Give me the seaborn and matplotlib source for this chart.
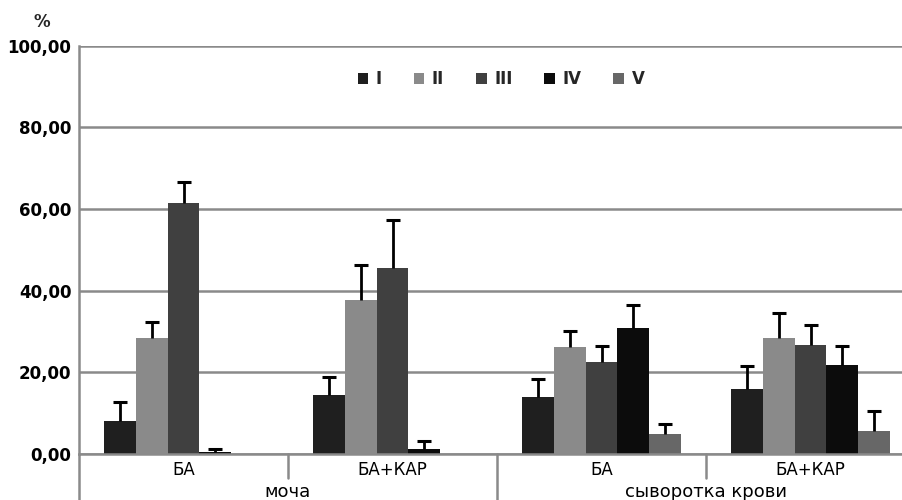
import matplotlib
matplotlib.use('Agg')
import matplotlib.pyplot as plt
import seaborn as sns
import pandas as pd
from matplotlib.transforms import blended_transform_factory

# ---- data ----
groups = ['моча', 'моча', 'сыворотка крови', 'сыворотка крови']
subgroups = ['БА', 'БА+КАР', 'БА', 'БА+КАР']
series = ['I', 'II', 'III', 'IV', 'V']

vals_I = [8.2, 14.4, 14.0, 16.0]
err_I = [4.5, 4.5, 4.4, 5.6]
vals_II = [28.3, 37.7, 26.3, 28.3]
err_II = [4.1, 8.6, 3.9, 6.1]
vals_III = [61.5, 45.5, 22.5, 26.7]
err_III = [5.2, 11.8, 4.0, 4.8]
vals_IV = [0.6, 1.2, 30.8, 21.7]
err_IV = [0.6, 2.1, 5.7, 4.8]
vals_V = [0.0, 0.0, 5.0, 5.7]
err_V = [0.0, 0.0, 2.3, 4.8]

yticks = [0, 20, 40, 60, 80, 100]

colors = ['#1f1f1f', '#8a8a8a', '#404040', '#0c0c0c', '#676767']

all_vals = [vals_I, vals_II, vals_III, vals_IV, vals_V]
all_errs = [err_I, err_II, err_III, err_IV, err_V]
cat_keys = [f'{g}|{s}' for g, s in zip(groups, subgroups)]

rows = []
for s, vals, errs in zip(series, all_vals, all_errs):
    for k, v, e in zip(cat_keys, vals, errs):
        rows.append({'cat': k, 'series': s, 'val': v, 'err': e})
df = pd.DataFrame(rows)

# ---- figure ----
sns.set_style('white')
plt.rcParams['font.family'] = ['DejaVu Sans']
W, H = 903, 500
fig = plt.figure(figsize=(W / 100, H / 100), dpi=100)
ax = fig.add_axes([79 / W, 1 - 454 / H, 836 / W, 408.5 / H])

sns.barplot(data=df, x='cat', y='val', hue='series', order=cat_keys,
            hue_order=series, palette=colors, width=0.76, gap=0,
            errorbar=None, saturation=1, ax=ax, zorder=2, linewidth=0)

# error bars (upper only)
for cont, errs, vals in zip(ax.containers, all_errs, all_vals):
    for patch, e, v in zip(cont.patches, errs, vals):
        if e <= 0:
            continue
        xc = patch.get_x() + patch.get_width() / 2
        top = patch.get_height() + e
        ax.plot([xc, xc], [patch.get_height(), top], color='black',
                lw=2.0, zorder=3, solid_capstyle='butt')
        ax.plot([xc], [top], marker='_', markersize=9.5, mew=2.2,
                color='black', zorder=3)

ax.set_xlim(-0.5, len(cat_keys) - 0.5)
ax.set_ylim(0, 100)
ax.set_yticks(yticks)
ax.set_yticklabels([f'{v:.2f}'.replace('.', ',') for v in yticks],
                   fontsize=12, fontweight='bold')
ax.set_xticks(range(len(cat_keys)))
ax.set_xticklabels(subgroups, fontsize=12)
ax.set_xlabel('')
ax.set_ylabel('')

gcol = '#8a8a8a'
ax.yaxis.grid(True, color=gcol, linewidth=1.8, zorder=0)
ax.set_axisbelow(True)
for sp in ['top', 'right']:
    ax.spines[sp].set_visible(False)
ax.spines['left'].set_color(gcol)
ax.spines['left'].set_linewidth(1.8)
ax.spines['bottom'].set_color(gcol)
ax.spines['bottom'].set_linewidth(1.8)
ax.tick_params(axis='y', length=3, width=1.5, color=gcol, pad=2.5,
               labelcolor='black')
ax.tick_params(axis='x', length=0, pad=5, labelcolor='black')

# multi-level axis separators
tr = blended_transform_factory(ax.transData, ax.transAxes)
short = -(478 - 454) / 408.5
long_ = -(505 - 454) / 408.5
ax.plot([-0.5, -0.5], [0, long_], transform=tr, color=gcol, lw=1.8,
        clip_on=False)
ax.plot([0.5, 0.5], [0, short], transform=tr, color=gcol, lw=1.8,
        clip_on=False)
ax.plot([2.5, 2.5], [0, short], transform=tr, color=gcol, lw=1.8,
        clip_on=False)
ax.plot([1.5, 1.5], [0, long_], transform=tr, color=gcol, lw=1.8,
        clip_on=False)

# group labels
uniq = []
for g in groups:
    if g not in uniq:
        uniq.append(g)
for g in uniq:
    idx = [i for i, gg in enumerate(groups) if gg == g]
    ax.text(sum(idx) / len(idx), -(492 - 454) / 408.5, g, transform=tr,
            ha='center', va='center', fontsize=13, color='black')

# percent sign
fig.text(42 / W, 1 - 22 / H, '%', ha='center', va='center', fontsize=12,
         fontweight='bold')

# legend
handles, labels = ax.get_legend_handles_labels()
ax.legend(handles, labels, ncol=5, loc='center',
          bbox_to_anchor=(501 / W, 1 - 79 / H), bbox_transform=fig.transFigure,
          frameon=False, handlelength=0.65, handleheight=0.65,
          handletextpad=0.45, columnspacing=1.9,
          prop={'weight': 'bold', 'size': 12})

fig.savefig('out.png', dpi=100)
